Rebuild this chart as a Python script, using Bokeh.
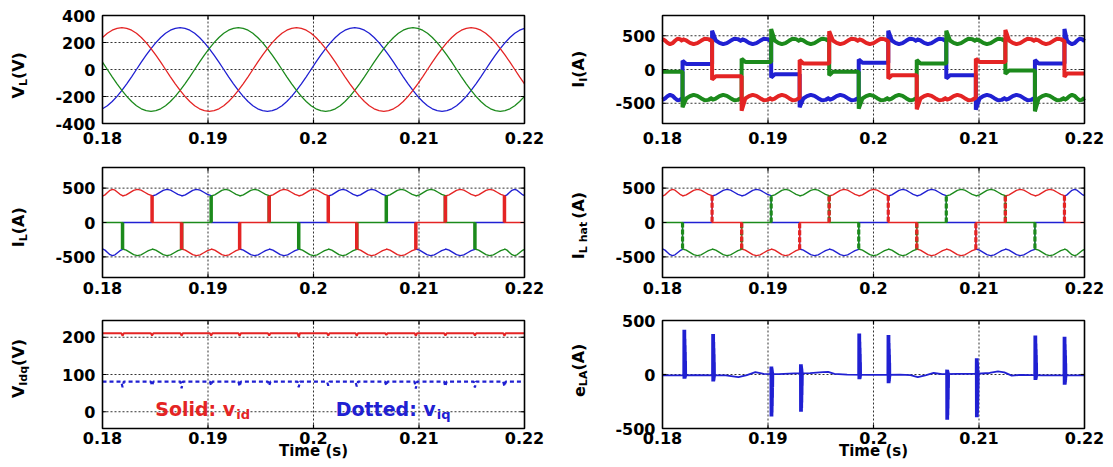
import math
from bokeh.plotting import figure
from bokeh.models import Range1d
from bokeh.core.properties import value
from bokeh.embed import file_html
from bokeh.resources import INLINE

RED = "#e42424"
GREEN = "#1c8a1c"
BLUE = "#2020d2"

# ------------------------------------------------------------------ data
x_ticks = [0.18, 0.19, 0.2, 0.21, 0.22]

# load voltages V_L (V), read at 88 equally spaced instants from 0.18 s to 0.22 s
vl_red = [237, 268, 291, 305,
          310, 305, 291, 268, 237, 199, 155, 106, 54, 0, -54, -106, -155, -199, -237, -268, -291, -305,
          -310, -305, -291, -268, -237, -199, -155, -106, -54, 0, 54, 106, 155, 199, 237, 268, 291, 305,
          310, 305, 291, 268, 237, 199, 155, 106, 54, 0, -54, -106, -155, -199, -237, -268, -291, -305,
          -310, -305, -291, -268, -237, -199, -155, -106, -54, 0, 54, 106, 155, 199, 237, 268, 291, 305,
          310, 305, 291, 268, 237, 199, 155, 106, 54, 0, -54, -106]
vl_blue = [-291, -268, -237, -199, -155, -106, -54, 0, 54, 106, 155, 199, 237, 268, 291, 305,
           310, 305, 291, 268, 237, 199, 155, 106, 54, 0, -54, -106, -155, -199, -237, -268, -291, -305,
           -310, -305, -291, -268, -237, -199, -155, -106, -54, 0, 54, 106, 155, 199, 237, 268, 291, 305,
           310, 305, 291, 268, 237, 199, 155, 106, 54, 0, -54, -106, -155, -199, -237, -268, -291, -305,
           -310, -305, -291, -268, -237, -199, -155, -106, -54, 0, 54, 106, 155, 199, 237, 268, 291, 305]
vl_green = [54, 0, -54, -106, -155, -199, -237, -268, -291, -305, -310, -305, -291, -268, -237, -199,
            -155, -106, -54, 0, 54, 106, 155, 199, 237, 268, 291, 305,
            310, 305, 291, 268, 237, 199, 155, 106, 54, 0, -54, -106, -155, -199, -237, -268, -291, -305,
            -310, -305, -291, -268, -237, -199, -155, -106, -54, 0, 54, 106, 155, 199, 237, 268, 291, 305,
            310, 305, 291, 268, 237, 199, 155, 106, 54, 0, -54, -106, -155, -199, -237, -268, -291, -305,
            -310, -305, -291, -268, -237, -199]
t_v = [0.18 + k * 0.04 / (len(vl_red) - 1) for k in range(len(vl_red))]

# commutation instants (s) and conduction state of each phase between them
t_sw = [0.1819, 0.1847, 0.1875, 0.1903, 0.1930, 0.1958, 0.1986,
        0.2014, 0.2041, 0.2069, 0.2097, 0.2125, 0.2153, 0.2181]
state_r = [1, 1, 0, -1, -1, 0, 1, 1, 0, -1, -1, 0, 1, 1, 0]
state_b = [-1, 0, 1, 1, 0, -1, -1, 0, 1, 1, 0, -1, -1, 0, 1]
state_g = [0, -1, -1, 0, 1, 1, 0, -1, -1, 0, 1, 1, 0, -1, -1]

# |I_L| across one 60-degree interval (A)
ripple_L = [385, 402, 435, 468, 482, 470, 440, 410, 390]
# |I_I| across one 60-degree interval (A)
ripple_I = [450, 430, 395, 375, 390, 425, 455, 450, 420]
# level of the idle phase of I_I in each interval (A)
idle_I = [-35, 80, -100, 110, -70, 90, -35, 100, -85, 90, -85, 110, -15, 90, -60]
# overshoot of the phase that starts conducting at each commutation (A)
spike_I = [-560, 575, -610, 600, -560, 565, -580, 575, -590, 575, -595, 585, -620, 600]
leave_over = 50

# v_id / v_iq (V)
vid_level = 211
vid_dip = [204, 205, 204, 205, 204, 205, 201, 205, 204, 206, 204, 205, 205, 204]
viq_level = 81
viq_dip = [66, 70, 63, 70, 68, 70, 66, 70, 68, 70, 62, 68, 65, 68]

# e_LA (A): slow baseline and commutation bursts
e_base_t = [0.180, 0.1815, 0.1830, 0.1860, 0.1872, 0.1880, 0.1888, 0.1896, 0.1910, 0.1925,
            0.1940, 0.1952, 0.1957, 0.1963, 0.1975, 0.1995, 0.2010, 0.2025, 0.2035, 0.2042,
            0.2050, 0.2057, 0.2065, 0.2080, 0.2095, 0.2110, 0.2118, 0.2124, 0.2131, 0.2140,
            0.2160, 0.2180, 0.2200]
e_base_v = [-8, -8, -6, -8, -25, -5, 22, 5, 4, 10, 12, 22, 25, 5, -2, -3, -4, -2, -6, -25,
            -5, 14, 3, 5, 6, 14, 28, 20, -10, -3, -8, -8, -8]
e_burst_t = [0.18206, 0.18479, 0.19031, 0.19311, 0.19864, 0.20141, 0.20697, 0.20978, 0.21533, 0.21810]
e_burst_hi = [415, 375, 75, 95, 380, 365, 45, 150, 360, 350]
e_burst_lo = [-40, -65, -390, -345, -45, -80, -420, -395, -50, -95]
burst_shape = [0, 1.0, -1.0, 0.8, -0.9, 0.65, -0.75, 0.5, -0.55, 0.3, -0.3, 0]

# ------------------------------------------------------------------ canvas
W, H = 1105, 459
FONT = value("DejaVu Sans")
EM = {"V": .774, "L": .637, "I": .372, "(": .457, ")": .457, "A": .774, " ": .348,
      "e": .678, "d": .716, "q": .716, "h": .712, "a": .675, "t": .478, "S": .721,
      "o": .687, "l": .343, "i": .343, ":": .400, "v": .652, "D": .830}


def text_w(txt, size):
    return sum(EM.get(c, 0.6) for c in txt) * size


p = figure(width=W, height=H, x_range=Range1d(0, W), y_range=Range1d(0, H),
           min_border=0, min_border_left=0, min_border_right=0, min_border_top=0,
           min_border_bottom=0, x_axis_type=None, y_axis_type=None,
           output_backend="svg", toolbar_location=None)
p.outline_line_color = None
p.background_fill_color = "white"
p.border_fill_color = "white"

# panel frames: left, right, top, bottom (pixels from top-left), y range, y ticks,
# distance from frame bottom to the centre of the x tick labels
PANELS = {
    "vl":  (102, 524, 15, 123, (-400, 400), [-400, -200, 0, 200, 400], 14),
    "ii":  (662, 1084, 15, 123, (-800, 800), [-500, 0, 500], 14),
    "il":  (102, 524, 167, 277, (-800, 800), [-500, 0, 500], 10),
    "ilh": (662, 1084, 167, 277, (-800, 800), [-500, 0, 500], 10),
    "vdq": (102, 524, 320, 428, (-45, 245), [0, 100, 200], 9),
    "ela": (662, 1084, 320, 428, (-500, 500), [-500, 0, 500], 9),
}
GEOM = {}


def setup_panel(name):
    x0, x1, yt, yb, yr, yticks, gap = PANELS[name]
    xpp = 0.04 / (x1 - x0)
    xs = 0.18 - x0 * xpp
    p.extra_x_ranges[name] = Range1d(xs, xs + W * xpp)
    ypp = (yr[1] - yr[0]) / (yb - yt)
    ys = yr[0] - (H - yb) * ypp
    p.extra_y_ranges[name] = Range1d(ys, ys + H * ypp)
    kw = dict(x_range_name=name, y_range_name=name)
    GEOM[name] = (xpp, ypp, kw)
    gx = [t for t in x_ticks if 0.18 < t < 0.22]
    gy = [v for v in yticks if yr[0] < v < yr[1]]
    grid = dict(line_color="black", line_alpha=0.8, line_dash="2 2", line_width=1)
    p.segment(gx, [yr[0]] * len(gx), gx, [yr[1]] * len(gx), **grid, **kw)
    p.segment([0.18] * len(gy), gy, [0.22] * len(gy), gy, **grid, **kw)
    return kw


def finish_panel(name, parts, mid):
    x0, x1, yt, yb, yr, yticks, gap = PANELS[name]
    xpp, ypp, kw = GEOM[name]
    gx = [t for t in x_ticks if 0.18 < t < 0.22]
    gy = [v for v in yticks if yr[0] < v < yr[1]]
    tick = dict(line_color="black", line_width=1.2)
    n = len(gx)
    p.segment(gx, [yr[0]] * n, gx, [yr[0] + 4 * ypp] * n, **tick, **kw)
    p.segment(gx, [yr[1]] * n, gx, [yr[1] - 4 * ypp] * n, **tick, **kw)
    m = len(gy)
    p.segment([0.18] * m, gy, [0.18 + 4 * xpp] * m, gy, **tick, **kw)
    p.segment([0.22] * m, gy, [0.22 - 4 * xpp] * m, gy, **tick, **kw)
    p.quad(left=[0.18], right=[0.22], bottom=[yr[0]], top=[yr[1]], fill_color=None,
           line_color="black", line_width=1.6, **kw)
    lab = dict(text_font=FONT, text_font_style="bold", text_font_size="16px", text_color="black")
    p.text(x=x_ticks, y=[yr[0] - gap * ypp] * len(x_ticks), text=[f"{t:g}" for t in x_ticks],
           text_align="center", text_baseline="middle", **lab, **kw)
    p.text(x=[0.18 - 7 * xpp] * len(yticks), y=yticks, text=[str(v) for v in yticks],
           text_align="right", text_baseline="middle", **lab, **kw)
    # rotated y title: main letter, subscript, unit -- each centred on its own spot
    widths = [text_w(t, s) + extra for t, s, dx, extra in parts]
    pos = (H - mid) - sum(widths) / 2
    for (t, s, dx, extra), w in zip(parts, widths):
        cx = x0 - 78 + dx - 0.346 * s
        p.text(x=[cx], y=[pos + (w - extra) / 2], text=[t], angle=math.pi / 2,
               text_align="center", text_baseline="middle", text_font=FONT,
               text_font_style="bold", text_font_size=f"{s}px", text_color="black")
        pos += w


def time_label(name):
    x0, x1, yt, yb, yr, yticks, gap = PANELS[name]
    xpp, ypp, kw = GEOM[name]
    p.text(x=[0.2], y=[yr[0] - 22 * ypp], text=["Time (s)"], text_align="center",
           text_baseline="middle", text_font=FONT, text_font_style="bold",
           text_font_size="15px", text_color="black", **kw)


bounds = [0.18] + t_sw + [0.22]


def load_current(states, ripple):
    xs, ys = [], []
    n = len(ripple) - 1
    for i, s in enumerate(states):
        a, b = bounds[i], bounds[i + 1]
        for j, r in enumerate(ripple):
            xs.append(a + (b - a) * j / n)
            ys.append(s * r)
    return xs, ys


def inverter_current(states):
    xs, ys = [], []
    n = len(ripple_I) - 1
    for i, s in enumerate(states):
        a, b = bounds[i], bounds[i + 1]
        prev = states[i - 1] if i > 0 else s
        for j, r in enumerate(ripple_I):
            xs.append(a + (b - a) * j / n)
            if s == 0:
                v = idle_I[i]
                if j == 0 and prev != 0:
                    v = idle_I[i] - leave_over * prev
            else:
                v = s * r
                if j == 0 and prev == 0 and i > 0:
                    v = spike_I[i - 1]
            ys.append(v)
    return xs, ys


def transitions(states, ripple):
    x, y0, y1 = [], [], []
    for k, t in enumerate(t_sw):
        if states[k] != states[k + 1]:
            x.append(t)
            y0.append(states[k] * ripple[-1])
            y1.append(states[k + 1] * ripple[0])
    return x, y0, y1


# ------------------------------------------------------------------ V_L
kw = setup_panel("vl")
p.line(t_v, vl_blue, color=BLUE, line_width=1.3, **kw)
p.line(t_v, vl_green, color=GREEN, line_width=1.3, **kw)
p.line(t_v, vl_red, color=RED, line_width=1.3, **kw)
finish_panel("vl", [("V", 16, 0, 0), ("L", 11, 3, 0), (" (V)", 16, 0, 0)], 72)

# ------------------------------------------------------------------ I_I
kw = setup_panel("ii")
for st, col in ((state_b, BLUE), (state_g, GREEN), (state_r, RED)):
    xs, ys = inverter_current(st)
    p.line(xs, ys, color=col, line_width=4, **kw)
finish_panel("ii", [("I", 16, 0, 0), ("I", 11, 3, 0), (" (A)", 16, 0, 0)], 66)

# ------------------------------------------------------------------ I_L
kw = setup_panel("il")
for st, col in ((state_b, BLUE), (state_g, GREEN), (state_r, RED)):
    xs, ys = load_current(st, ripple_L)
    p.line(xs, ys, color=col, line_width=1.4, **kw)
for st, col in ((state_g, GREEN), (state_r, RED)):
    tx, y0, y1 = transitions(st, ripple_L)
    p.segment(tx, y0, tx, y1, color=col, line_width=3.5, **kw)
finish_panel("il", [("I", 16, 0, 0), ("L", 11, 3, 0), (" (A)", 16, 0, 0)], 224)

# ------------------------------------------------------------------ I_L hat
kw = setup_panel("ilh")
for st, col in ((state_b, BLUE), (state_g, GREEN), (state_r, RED)):
    xs, ys = load_current(st, ripple_L)
    p.line(xs, ys, color=col, line_width=1.4, **kw)
for st, col in ((state_g, GREEN), (state_r, RED)):
    tx, y0, y1 = transitions(st, ripple_L)
    p.segment(tx, y0, tx, y1, color=col, line_width=3.2, line_dash="5 2", **kw)
finish_panel("ilh", [("I", 16, 0, 0), ("L hat", 11, 3, 3), ("(A)", 16, 0, 0)], 225)

# ------------------------------------------------------------------ v_idq
kw = setup_panel("vdq")
dx = 0.00012
vx, vy, qx, qy = [0.18], [vid_level], [0.18], [viq_level]
for t, d1, d2 in zip(t_sw, vid_dip, viq_dip):
    vx += [t - dx, t, t + dx]
    vy += [vid_level, d1, vid_level]
    qx += [t - dx, t, t + dx]
    qy += [viq_level, d2, viq_level]
vx.append(0.22); vy.append(vid_level)
qx.append(0.22); qy.append(viq_level)
p.line(vx, vy, color=RED, line_width=2, **kw)
p.line(qx, qy, color=BLUE, line_width=2.2, line_dash="4 3", **kw)
sol_x, dot_x, txt_y, sub_y = 0.1850, 0.2021, 8, -8
for x0, main, sub, col in ((sol_x, "Solid: v", "id", RED), (dot_x, "Dotted: v", "iq", BLUE)):
    p.text(x=[x0], y=[txt_y], text=[main], text_align="left", text_baseline="middle",
           text_font=FONT, text_font_style="bold", text_font_size="19px", text_color=col, **kw)
    p.text(x=[x0], y=[sub_y], x_offset=text_w(main, 19) + 1, text=[sub], text_align="left",
           text_baseline="middle", text_font=FONT, text_font_style="bold",
           text_font_size="13px", text_color=col, **kw)
finish_panel("vdq", [("V", 16, 0, 0), ("Idq", 11, 3, 0), ("(V)", 16, 0, 0)], 368)
time_label("vdq")

# ------------------------------------------------------------------ e_LA
kw = setup_panel("ela")
p.line(e_base_t, e_base_v, color=BLUE, line_width=1.8, **kw)
bx, by = [], []
bdt = 0.000009
for t, hi, lo in zip(e_burst_t, e_burst_hi, e_burst_lo):
    bx.append([t + j * bdt for j in range(len(burst_shape))])
    by.append([f * hi if f >= 0 else -f * lo for f in burst_shape])
p.multi_line(bx, by, color=BLUE, line_width=3.8, **kw)
finish_panel("ela", [("e", 16, 0, 0), ("LA", 11, 3, 0), (" (A)", 16, 0, 0)], 367)
time_label("ela")

open("out.html", "w").write(file_html(p, INLINE))
